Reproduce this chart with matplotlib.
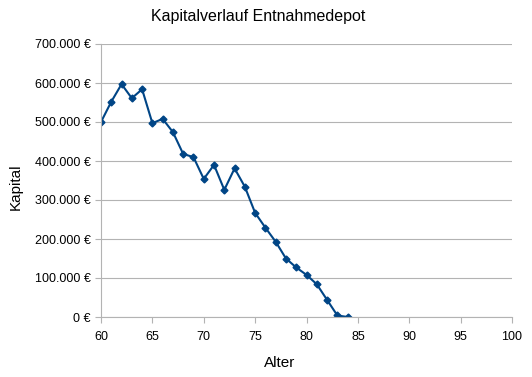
import matplotlib.pyplot as plt
from matplotlib.ticker import FuncFormatter

plt.rcParams['font.family'] = ['Liberation Sans', 'DejaVu Sans']

alter = list(range(60, 85))
kapital = [500000, 552000, 597000, 561000, 584000, 497000, 508000, 474000,
           418000, 410000, 354000, 390000, 326000, 381000, 334000, 267000,
           229000, 193000, 150000, 127000, 108000, 84000, 44000, 4000, 0]

fig = plt.figure(figsize=(5.32, 3.77), dpi=100)
ax = fig.add_axes([101 / 532, 60 / 377, 411 / 532, 273 / 377])

ax.plot(alter, kapital, color='#004586', lw=1.5, marker='D', ms=3.5)

ax.set_xlim(60, 100)
ax.set_ylim(0, 700000)
ax.set_xticks(range(60, 101, 5))
ax.set_yticks(range(0, 700001, 100000))
ax.yaxis.set_major_formatter(FuncFormatter(lambda v, p: f"{int(v):,} €".replace(',', '.')))

ax.grid(axis='y', color='#b3b3b3', lw=0.8)
ax.set_axisbelow(True)
for s in ['top', 'right']:
    ax.spines[s].set_visible(False)
for s in ['left', 'bottom']:
    ax.spines[s].set_color('#b3b3b3')
ax.tick_params(colors='#b3b3b3', labelcolor='black', labelsize=9, length=4)
ax.tick_params(axis='x', pad=6)

fig.text(0.485, 0.955, 'Kapitalverlauf Entnahmedepot', ha='center', va='center', fontsize=11.5)
fig.text(0.525, 0.037, 'Alter', ha='center', va='center', fontsize=11)
fig.text(0.03, 0.505, 'Kapital', ha='center', va='center', rotation=90, fontsize=11)

fig.savefig('out.png')
